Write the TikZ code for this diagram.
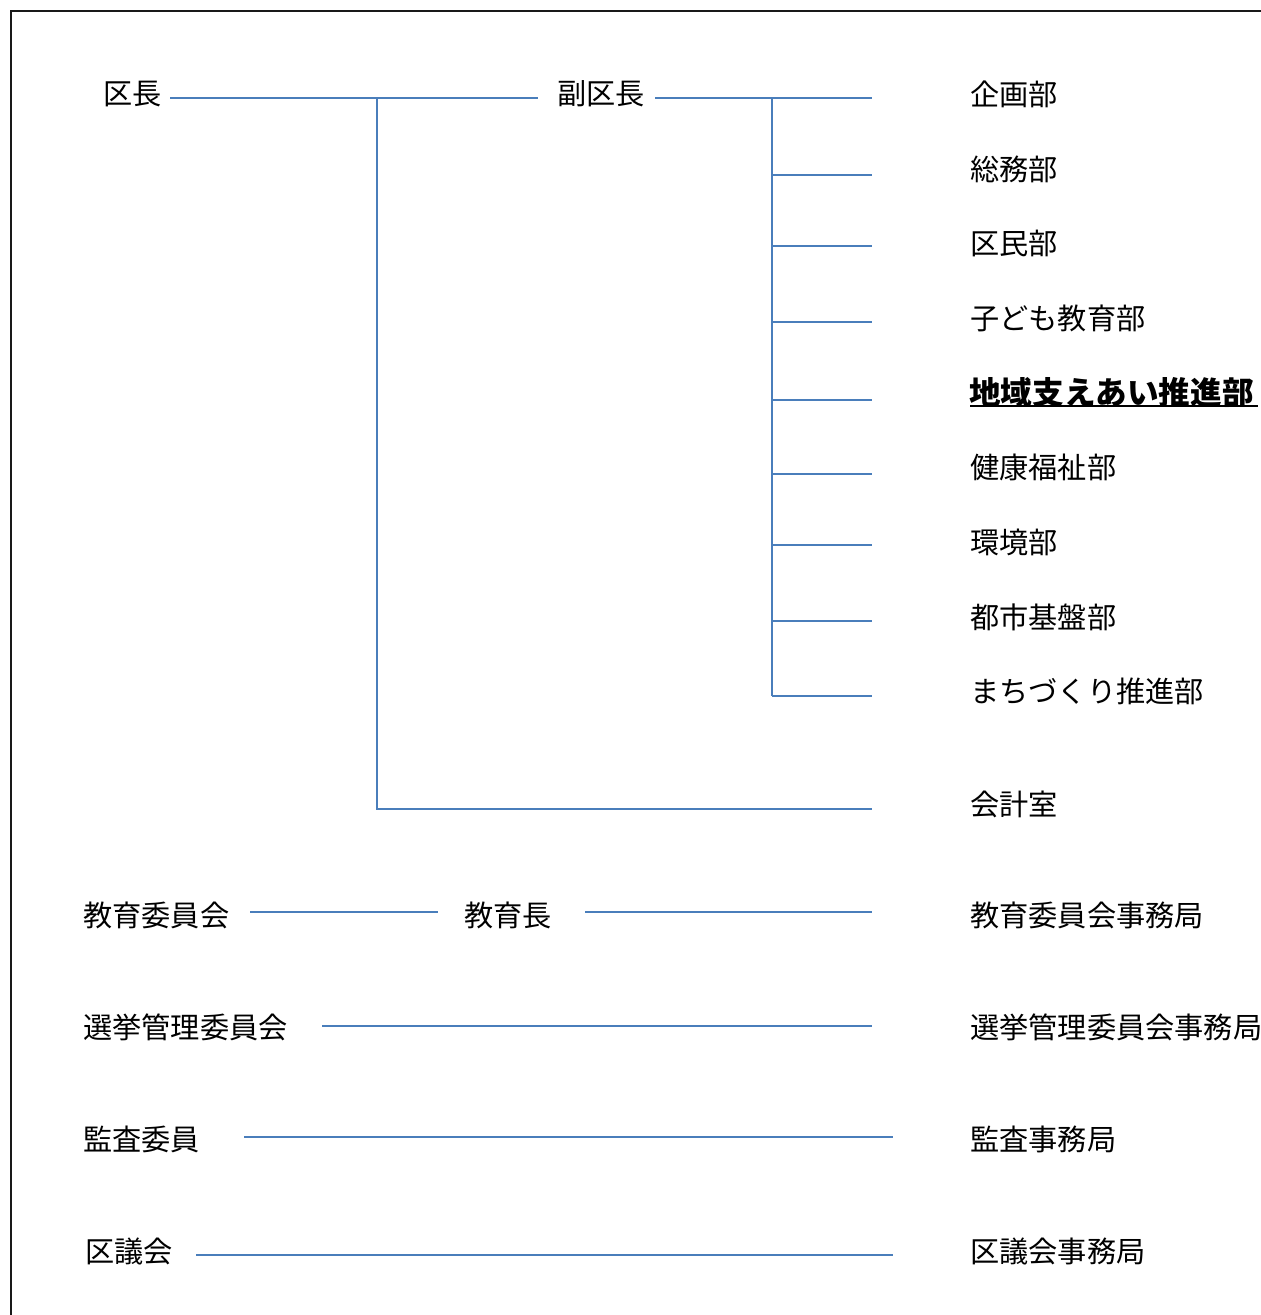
\documentclass[tikz,border=0pt]{standalone}
\usepackage{fontspec}
\newfontfamily\jp{Noto Sans CJK JP}
\begin{document}
\begin{tikzpicture}[x=1pt,y=-1pt,
  lbl/.style={anchor=west,inner sep=0pt,font=\jp\fontsize{29.2}{34}\selectfont},
  boldlbl/.style={lbl,font=\jp\bfseries\fontsize{31.6}{36}\selectfont},
  conn/.style={draw={rgb,255:red,74;green,126;blue,187},line width=1.8pt}]
\useasboundingbox (0,0) rectangle (1261,1315);
\draw[line width=2.8pt,black!90] (11,1320) -- (11,11) -- (1266,11);

% labels
\node[lbl] (kucho) at (103,94) {区長};
\node[lbl] (fuku) at (557,94) {副区長};
\node[lbl] (d1) at (970,94) {企画部};
\node[lbl] (d2) at (970,169) {総務部};
\node[lbl] (d3) at (970,243) {区民部};
\node[lbl] (d4) at (970,318) {子ども教育部};
\node[boldlbl] (d5) at (969,392) {地域支えあい推進部};
\draw[line width=2.6pt] (970,406) -- (1258,406);
\node[lbl] (d6) at (970,467) {健康福祉部};
\node[lbl] (d7) at (970,542) {環境部};
\node[lbl] (d8) at (970,617) {都市基盤部};
\node[lbl] (d9) at (970,691) {まちづくり推進部};
\node[lbl] (kaikei) at (970,804) {会計室};
\node[lbl] (kyoiku) at (83,915) {教育委員会};
\node[lbl] (kyoikucho) at (464,915) {教育長};
\node[lbl] (kyoikujim) at (970,915) {教育委員会事務局};
\node[lbl] (senkyo) at (83,1027) {選挙管理委員会};
\node[lbl] (senkyojim) at (970,1027) {選挙管理委員会事務局};
\node[lbl] (kansa) at (83,1139) {監査委員};
\node[lbl] (kansajim) at (970,1139) {監査事務局};
\node[lbl] (gikai) at (85,1251) {区議会};
\node[lbl] (gikaijim) at (970,1251) {区議会事務局};

% junction coordinates
\coordinate (a0) at (170,98);
\coordinate (a1) at (538,98);
\coordinate (ja) at (377,98);
\coordinate (jb) at (377,809);
\coordinate (kk) at (872,809);
\coordinate (b0) at (655,98);
\coordinate (jc) at (772,98);
\coordinate (jd) at (772,696);
\foreach \i/\y in {1/98,2/175,3/246,4/322,5/400,6/474,7/545,8/621,9/696}{
  \coordinate (s\i) at (772,\y);
  \coordinate (e\i) at (872,\y);
}
\coordinate (k0) at (250,912);
\coordinate (k1) at (438,912);
\coordinate (k2) at (585,912);
\coordinate (k3) at (872,912);
\coordinate (se0) at (322,1026);
\coordinate (se1) at (872,1026);
\coordinate (ka0) at (244,1137);
\coordinate (ka1) at (893,1137);
\coordinate (gi0) at (196,1255);
\coordinate (gi1) at (893,1255);

% connectors
\draw[conn] (a0) -- (a1);
\draw[conn] (ja) -- (jb) -- (kk);
\draw[conn] (b0) -- (e1);
\draw[conn] (jc) -- (jd);
\foreach \i in {2,...,9}{ \draw[conn] (s\i) -- (e\i); }
\draw[conn] (k0) -- (k1);
\draw[conn] (k2) -- (k3);
\draw[conn] (se0) -- (se1);
\draw[conn] (ka0) -- (ka1);
\draw[conn] (gi0) -- (gi1);
\end{tikzpicture}
\end{document}
